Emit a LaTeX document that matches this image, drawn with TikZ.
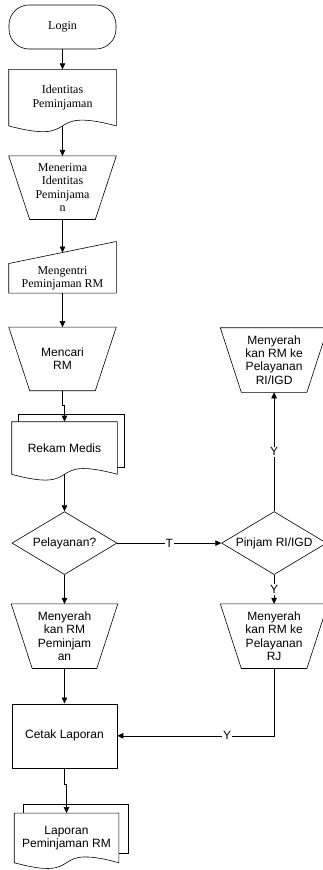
\documentclass[tikz,border=0pt]{standalone}
\usepackage{fontspec}
\setmainfont{Liberation Serif}
\setsansfont{Liberation Sans}
\usepackage{tikz}
\usetikzlibrary{arrows.meta,positioning,shapes.geometric,calc}
\newcommand{\manop}[1]{\draw (#1.north west) -- (#1.north east) -- ([xshift=-21pt]#1.south east) -- ([xshift=21pt]#1.south west) -- cycle;}
\newcommand{\manin}[1]{\draw (#1.north west) -- ([yshift=22pt]#1.north east) -- (#1.south east) -- (#1.south west) -- cycle;}
\newcommand{\docshp}[1]{\draw (#1.north west) -- (#1.north east) -- (#1.south east)
  .. controls ($(#1.south east)!0.7!(#1.south west)+(0,20pt)$) and ($(#1.south west)!0.7!(#1.south east)+(0,-20pt)$) .. (#1.south west) -- cycle;}
\newcommand{\multidoc}[2]{\docshp{#1}
  \draw ([xshift=#2]#1.north west) -- ([xshift=#2,yshift=#2]#1.north west) -- ([xshift=#2,yshift=#2]#1.north east) -- ([xshift=#2,yshift=#2]#1.south east) -- ([yshift=#2]#1.south east);}

\begin{document}
\begin{tikzpicture}[
   x=1pt, y=1pt, line width=0.6pt,
   ser/.style={font=\rmfamily\fontsize{12}{13.5}\selectfont},
   san/.style={font=\sffamily\fontsize{12}{13.3}\selectfont},
   shp/.style={inner sep=0pt, align=center, minimum width=107pt},
   term/.style={shp, ser, draw, rounded corners=20pt, minimum height=44pt},
   proc/.style={shp, san, draw, minimum width=105pt, minimum height=64pt},
   dec/.style={san, draw, diamond, aspect=2, inner sep=0pt, minimum width=105pt, minimum height=63pt},
   lbl/.style={san, fill=white, inner sep=1pt},
   ar/.style={-{Triangle[length=6pt,width=5.5pt]}}
]
\useasboundingbox (0,0) rectangle (323,-870);
\node[term] (login) at (62.5,-27) {Login};
\node[shp, ser, minimum height=56pt, below=20pt of login] (ident) {Identitas\\Peminjaman};
\node[shp, ser, minimum height=63pt, below=30pt of ident] (terima) {Menerima\\Identitas\\Peminjama\\n};
\node[shp, ser, minimum height=29pt, below=44pt of terima] (entri) {Mengentri\\Peminjaman RM};
\node[shp, san, minimum height=63pt, below=34pt of entri] (cari) {Mencari\\RM};
\node[shp, san, minimum width=105pt, minimum height=52pt, below=31pt of cari, xshift=2pt] (rekam) {Rekam Medis};
\node[dec, below=37pt of rekam] (layan) {Pelayanan?};
\node[shp, san, minimum width=106pt, minimum height=64pt, below=29pt of layan] (serah) {Menyerah\\kan RM\\Peminjam\\an};
\node[proc, below=35pt of serah] (cetak) {Cetak Laporan};
\node[shp, san, minimum width=104pt, minimum height=49pt, below=45pt of cetak, xshift=2pt] (lapor) {Laporan\\Peminjaman RM};
\node[dec, right=104pt of layan] (pinjam) {Pinjam RI/IGD};
\node[shp, san, minimum height=64pt, above=119pt of pinjam] (serahri) {Menyerah\\kan RM ke\\Pelayanan\\RI/IGD};
\node[shp, san, minimum height=64pt, below=29pt of pinjam] (serahrj) {Menyerah\\kan RM ke\\Pelayanan\\RJ};

\docshp{ident}
\manop{terima}
\manin{entri}
\manop{cari}
\multidoc{rekam}{7pt}
\manop{serah}
\manop{serahri}
\manop{serahrj}
\multidoc{lapor}{9pt}

\draw[ar] (login) -- (ident);
\draw[ar] (ident.south) -- (terima);
\draw[ar] (terima) -- ([yshift=11pt]entri.north);
\draw[ar] (entri) -- (cari);
\draw[ar] (cari.south) -- ++(0,-15pt) -| (rekam.north);
\draw[ar] (rekam.south) -- (layan);
\draw[ar] (layan) -- (serah);
\draw[ar] (serah) -- (cetak);
\draw[ar] (cetak.south) -- ++(0,-16pt) -| (lapor.north);
\draw[ar] (layan) -- node[lbl] {T} (pinjam);
\draw[ar] (pinjam) -- node[lbl] {Y} (serahri);
\draw[ar] (pinjam) -- node[lbl] {Y} (serahrj);
\draw[ar] (serahrj.south) |- node[lbl, pos=0.65] {Y} (cetak.east);
\end{tikzpicture}
\end{document}
